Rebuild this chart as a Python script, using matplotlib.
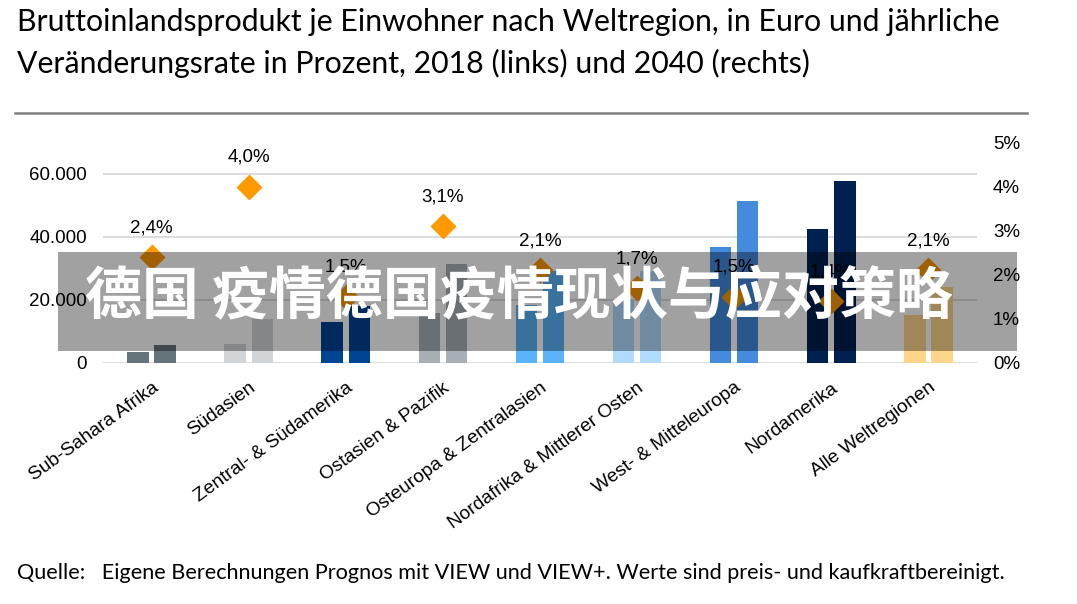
import matplotlib
matplotlib.use("Agg")
import matplotlib.pyplot as plt
import numpy as np
from matplotlib.patches import Rectangle

# data
regionen = ["Sub-Sahara Afrika", "Südasien", "Zentral- & Südamerika", "Ostasien & Pazifik",
            "Osteuropa & Zentralasien", "Nordafrika & Mittlerer Osten", "West- & Mitteleuropa",
            "Nordamerika", "Alle Weltregionen"]
bip_2018 = [3200, 5800, 13000, 15700, 18400, 20000, 36800, 42500, 15200]
bip_2040 = [5500, 14000, 18000, 31500, 29000, 29000, 51400, 57600, 24100]
wachstum = [2.4, 4.0, 1.5, 3.1, 2.1, 1.7, 1.5, 1.4, 2.1]
wachstum_txt = ["2,4%", "4,0%", "1,5%", "3,1%", "2,1%", "1,7%", "1,5%", "1,4%", "2,1%"]
farben = ["#65737B", "#D1D5D8", "#004494", "#A8B0B6", "#5BB3FA",
          "#B0DBFF", "#448BDD", "#002050", "#FFD58A"]
links_ticks = [0, 20000, 40000, 60000]
links_labels = ["0", "20.000", "40.000", "60.000"]
rechts_ticks = [0, 1, 2, 3, 4, 5]
rechts_labels = ["0%", "1%", "2%", "3%", "4%", "5%"]

W, H = 1077, 604
fig = plt.figure(figsize=(W / 100, H / 100), dpi=100)

ax = fig.add_axes([103 / W, 1 - 362.5 / H, 874 / W, 220 / H])
x = np.arange(len(regionen))
bw = 0.22
ax.bar(x - 0.14, bip_2018, bw, color=farben, zorder=2)
ax.bar(x + 0.14, bip_2040, bw, color=farben, zorder=2)
ax.set_xlim(-0.5, len(regionen) - 0.5)
ax.set_ylim(0, 70000)
ax.set_yticks(links_ticks)
ax.set_yticklabels(links_labels, fontsize=13.5, family="Liberation Sans")
ax.grid(axis="y", color="#D9D9D9", linewidth=1.3, zorder=0)
ax.set_xticks(x)
ax.set_xticklabels(regionen, rotation=36, ha="right", va="top", rotation_mode="anchor",
                   fontsize=13.8, family="Liberation Sans")
ax.tick_params(axis="both", length=0)
ax.tick_params(axis="x", pad=12)
ax.tick_params(axis="y", pad=11.5)
for s in ax.spines.values():
    s.set_visible(False)

ax2 = ax.twinx()
ax2.set_ylim(0, 5)
ax2.scatter(x, wachstum, marker="D", s=150, color="#FF9900", zorder=3)
for xi, w, t in zip(x, wachstum, wachstum_txt):
    ax2.annotate(t, (xi, w), xytext=(0, 21), textcoords="offset points", ha="center",
                 va="center", fontsize=13.5, family="Liberation Sans")
ax2.set_yticks(rechts_ticks)
ax2.set_yticklabels(rechts_labels, fontsize=13.5, family="Liberation Sans")
ax2.tick_params(axis="y", length=0, pad=11.5)
for s in ax2.spines.values():
    s.set_visible(False)

# title, rule, source
fig.text(17 / W, 1 - 22 / H, "Bruttoinlandsprodukt je Einwohner nach Weltregion, in Euro und jährliche",
         fontsize=21.8, family="Lato", va="center", ha="left")
fig.text(17 / W, 1 - 63 / H, "Veränderungsrate in Prozent, 2018 (links) und 2040 (rechts)",
         fontsize=21.8, family="Lato", va="center", ha="left")
fig.add_artist(plt.Line2D([15 / W, 1027 / W], [1 - 113 / H, 1 - 113 / H], color="#7F7F7F", lw=1.8))
fig.text(17 / W, 1 - 573 / H, "Quelle:   Eigene Berechnungen Prognos mit VIEW und VIEW+. Werte sind preis- und kaufkraftbereinigt.",
         fontsize=15.6, family="Lato", va="center", ha="left")

# grey banner overlay
fig.add_artist(Rectangle((58 / W, 1 - 351 / H), (1017 - 58) / W, (351 - 252) / H,
                         transform=fig.transFigure, color="black", alpha=0.37, lw=0, zorder=10))
fig.text(85 / W, 1 - 297 / H, "德国 疫情德国疫情现状与应对策略", fontsize=41, fontweight=900,
         family=["Noto Sans CJK SC", "DejaVu Sans"], color="white", va="center", ha="left", zorder=11)

fig.savefig("out.png", dpi=100)
